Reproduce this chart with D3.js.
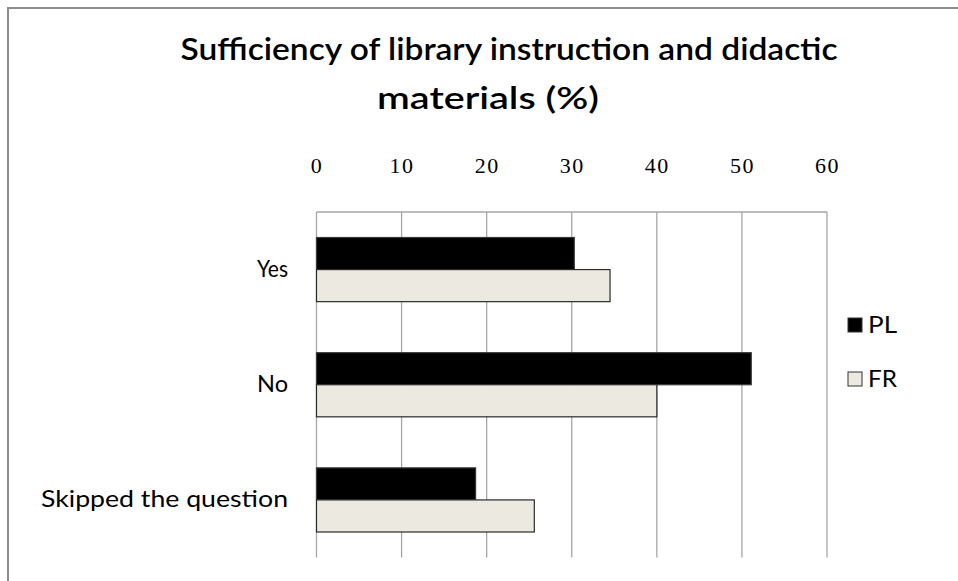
<!DOCTYPE html>
<html>
<head>
<meta charset="utf-8">
<script src="https://cdn.jsdelivr.net/npm/d3@7"></script>
<style>
  html, body { margin: 0; padding: 0; background: #fff; }
  svg { display: block; }
</style>
</head>
<body>
<svg id="chart" width="958" height="581"></svg>
<script>
const titleLines = ["Sufficiency of library instruction and didactic", "materials (%)"];
const categories = ["Yes", "No", "Skipped the question"];
const seriesNames = ["PL", "FR"];
const plValues = [30.3, 51.1, 18.7];
const frValues = [34.5, 40.0, 25.6];
const tickValues = [0, 10, 20, 30, 40, 50, 60];
const seriesColors = ["#000000", "#ECEAE0"];

const svg = d3.select("#chart");

// outer frame
svg.append("path")
  .attr("d", "M8,600 L8,8 L970,8")
  .attr("fill", "none")
  .attr("stroke", "#8c8c8c")
  .attr("stroke-width", 2);

const plot = { left: 316.5, right: 827, top: 212, bottom: 557.5 };

const x = d3.scaleLinear().domain([0, 60]).range([plot.left, plot.right]);
const y = d3.scaleBand().domain(categories).range([plot.top, plot.bottom])
  .paddingInner(0.443).paddingOuter(0.2215);
const ySub = d3.scaleBand().domain(seriesNames).range([0, y.bandwidth()]);
const color = d3.scaleOrdinal().domain(seriesNames).range(seriesColors);

// title
const titleX = [509, 488];
const titleY = [60, 109];
const titleLen = [657, 222];
svg.selectAll("text.title").data(titleLines).join("text")
  .attr("class", "title")
  .attr("x", (d, i) => titleX[i])
  .attr("y", (d, i) => titleY[i])
  .attr("text-anchor", "middle")
  .attr("textLength", (d, i) => titleLen[i])
  .attr("lengthAdjust", "spacingAndGlyphs")
  .style("font-family", "Lato, 'Noto Sans', sans-serif")
  .style("font-weight", "600")
  .style("font-size", "31px")
  .attr("fill", "#000")
  .text(d => d);

// gridlines
svg.append("g").selectAll("line").data(tickValues).join("line")
  .attr("x1", d => x(d)).attr("x2", d => x(d))
  .attr("y1", plot.top).attr("y2", plot.bottom)
  .attr("stroke", "#a6a6a6").attr("stroke-width", 1.3);
svg.append("line")
  .attr("x1", plot.left).attr("x2", plot.right)
  .attr("y1", plot.top).attr("y2", plot.top)
  .attr("stroke", "#a6a6a6").attr("stroke-width", 1.3);

// top axis labels
const xAxis = d3.axisTop(x).tickValues(tickValues).tickSize(0).tickPadding(0).tickFormat(d3.format("d"));
const gx = svg.append("g").attr("transform", "translate(0,173)").call(xAxis);
gx.select(".domain").remove();
gx.selectAll("text")
  .style("font-family", "'Liberation Serif', 'DejaVu Serif', serif")
  .style("font-size", "22px")
  .style("letter-spacing", "1.5px")
  .attr("fill", "#000");

// category labels
const catLen = { "Yes": 31, "No": 31, "Skipped the question": 247 };
const yAxis = d3.axisLeft(y).tickSize(0).tickPadding(0);
const gy = svg.append("g").attr("transform", "translate(288,0)").call(yAxis);
gy.select(".domain").remove();
gy.selectAll("text")
  .style("font-family", "Lato, 'Noto Sans', sans-serif")
  .style("font-size", "23px")
  .attr("textLength", d => catLen[d])
  .attr("lengthAdjust", "spacingAndGlyphs")
  .attr("fill", "#000")
  .attr("dy", "0.32em");

// bars
const rows = categories.map((c, i) => ({ cat: c, vals: [
  { s: "PL", v: plValues[i] }, { s: "FR", v: frValues[i] } ] }));
const groups = svg.append("g").selectAll("g").data(rows).join("g")
  .attr("transform", d => `translate(0,${y(d.cat)})`);
groups.selectAll("rect").data(d => d.vals).join("rect")
  .attr("x", x(0))
  .attr("y", d => ySub(d.s))
  .attr("width", d => x(d.v) - x(0))
  .attr("height", ySub.bandwidth())
  .attr("fill", d => color(d.s))
  .attr("stroke", d => d.s === "PL" ? "#3a3a3a" : "#2a2a2a")
  .attr("stroke-width", 1.2);

// legend
const legendY = [325, 379];
const lg = svg.append("g").selectAll("g").data(seriesNames).join("g")
  .attr("transform", (d, i) => `translate(848,${legendY[i]})`);
lg.append("rect")
  .attr("x", 0).attr("y", -7).attr("width", 14).attr("height", 14)
  .attr("fill", d => color(d))
  .attr("stroke", "#333").attr("stroke-width", 1);
lg.append("text")
  .attr("x", 20).attr("y", 0).attr("dy", "0.35em")
  .attr("textLength", 29)
  .attr("lengthAdjust", "spacingAndGlyphs")
  .style("font-family", "Lato, 'Noto Sans', sans-serif")
  .style("font-size", "23px")
  .attr("fill", "#000")
  .text(d => d);
</script>
</body>
</html>
